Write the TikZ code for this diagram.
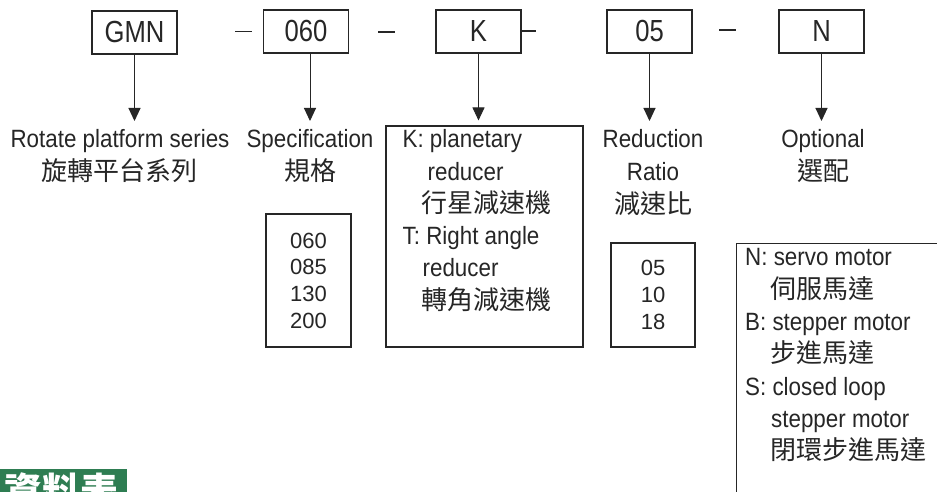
\documentclass[tikz,border=0pt]{standalone}
\usepackage{fontspec}
\setmainfont[FakeStretch=0.895]{Liberation Sans}
\newfontfamily\codefont[FakeStretch=0.84]{Liberation Sans}
\newfontfamily\numfont{Liberation Sans}
\newfontfamily\cjkfont{Noto Sans CJK TC}
\newcommand\zh[1]{{\cjkfont\fontsize{26}{33}\selectfont #1}}
\usetikzlibrary{arrows.meta}

\definecolor{ink}{RGB}{38,38,38}
\definecolor{tabgreen}{RGB}{46,125,82}

\tikzset{
	codebox/.style={draw=ink, line width=1.1pt, minimum width=85pt, minimum height=43pt, inner sep=0pt, text=ink, font=\codefont\fontsize{30.5}{30}\selectfont},
	listbox/.style={draw=ink, line width=1.1pt, inner sep=0pt, align=center, text=ink, font=\numfont\fontsize{22}{26.7}\selectfont},
	framebox/.style={draw=ink, line width=1.1pt, inner sep=0pt},
	lbl/.style={anchor=north, inner xsep=0pt, inner ysep=8pt, align=center, text=ink, font=\fontsize{25}{33}\selectfont},
	txt/.style={anchor=north west, inner sep=0pt, align=left, text=ink, font=\fontsize{25}{32.3}\selectfont},
	arr/.style={draw=ink, line width=1pt, -{Triangle[length=13pt,width=12pt]}},
	hyphen/.style={draw=ink, line width=1.3pt}
}

\begin{document}
\begin{tikzpicture}[x=1pt, y=-1pt]
						\useasboundingbox (0,0) rectangle (937,492);
						\clip (0,0) rectangle (937,492);
						\fill[white] (0,0) rectangle (937,492);
						\node[codebox] (gmn) at (134.5,32.5) {GMN};
						\node[codebox] (spec) at (306,31.5) {060};
						\node[codebox] (kind) at (478.5,31.5) {K};
						\node[codebox] (ratio) at (649.5,31.5) {05};
						\node[codebox] (opt) at (821.5,31.5) {N};
						\draw[hyphen] (235,31.7) -- (252,31.7);
						\draw[hyphen] (378,32) -- (395,32);
						\draw[hyphen] (521,31) -- (536,31);
						\draw[hyphen] (719,30) -- (736,30);
						\node[lbl] (gmntxt) at (120,121) {Rotate platform series\\\zh{旋轉平台系列}};
						\node[lbl] (spectxt) at (310,121) {Specification\\\zh{規格}};
						\node[lbl] (ratiotxt) at (653,121) {Reduction\\Ratio\\\zh{減速比}};
						\node[lbl] (opttxt) at (823,121) {Optional\\\zh{選配}};
						\node[framebox, minimum width=197pt, minimum height=221pt] (kindbox) at (484.5,236.5) {};
						\node[txt] (kindtxt) at ([shift={(17pt,-4pt)}]kindbox.north west) {K: planetary\\\hspace*{25pt}reducer\\\hspace*{19pt}\zh{行星減速機}\\T: Right angle\\\hspace*{20pt}reducer\\\hspace*{19pt}\zh{轉角減速機}};
						\node[listbox, minimum width=85pt, minimum height=133pt] (speclist) at (308.5,280.5) {060\\085\\130\\200};
						\node[listbox, minimum width=84pt, minimum height=104pt] (ratiolist) at (653,295) {05\\10\\18};
						\node[framebox, minimum width=224pt, minimum height=277pt, anchor=north west] (optbox) at (736,243) {};
						\node[txt] (optlist) at ([shift={(9pt,-5.5pt)}]optbox.north west) {N: servo motor\\\hspace*{25pt}\zh{伺服馬達}\\B: stepper motor\\\hspace*{25pt}\zh{步進馬達}\\S: closed loop\\\hspace*{26pt}stepper motor\\\hspace*{25pt}\zh{閉環步進馬達}};
						\draw[arr] (gmn.south) -- (gmn.south |- gmntxt.north);
						\draw[arr] (spec.south -| spectxt.north) -- (spectxt.north);
						\draw[arr, shorten >=5pt] (kind.south) -- (kind.south |- kindbox.north);
						\draw[arr] (ratio.south) -- (ratio.south |- ratiotxt.north);
						\draw[arr] (opt.south) -- (opt.south |- opttxt.north);
						\fill[tabgreen] (0,469) rectangle (127,500);
						\node[anchor=base west, inner sep=0pt, text=white, font=\cjkfont\bfseries\fontsize{38}{38}\selectfont] (tab) at (4,505) {資料表};
\end{tikzpicture}
\end{document}
